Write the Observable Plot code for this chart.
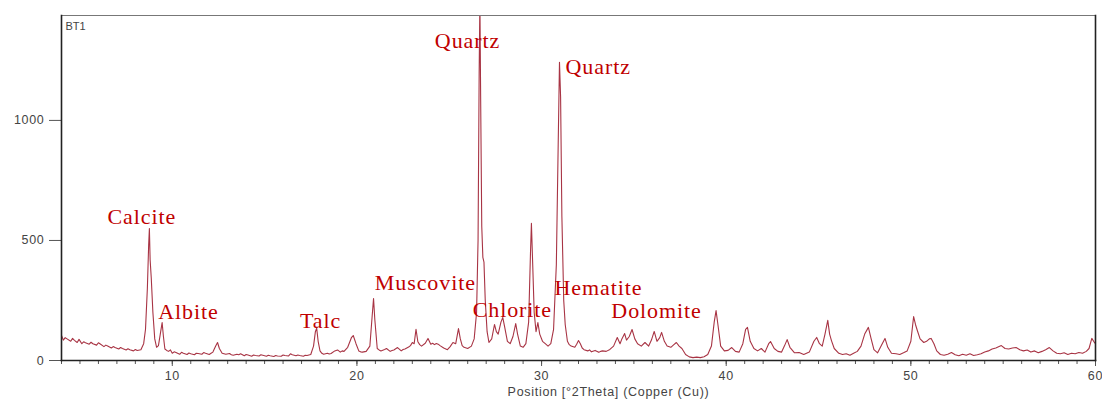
<!DOCTYPE html>
<html>
<head>
<meta charset="utf-8">
<script src="https://cdn.jsdelivr.net/npm/d3@7"></script>
<script src="https://cdn.jsdelivr.net/npm/@observablehq/plot@0.6"></script>
<style>
  html, body { margin: 0; padding: 0; background: #fff; }
  #chart { width: 1102px; height: 403px; }
  .mineral text { letter-spacing: 0.9px; }
  .axtext text { letter-spacing: 0.7px; }
</style>
</head>
<body>
<div id="chart"></div>
<script>
// XRD scan: [position °2θ, counts]
const scan = [
  [4.0,104],[4.1,85],[4.2,95],[4.3,90],[4.5,80],[4.6,92],[4.7,84],[4.85,75],[4.95,88],[5.1,70],[5.2,78],[5.3,74],[5.5,68],[5.6,76],[5.7,70],[5.9,64],[6.0,74],[6.1,69],[6.3,58],[6.4,64],[6.5,60],[6.7,52],[6.8,58],[6.9,54],[7.1,48],[7.2,54],[7.3,50],[7.5,44],[7.6,49],[7.7,45],[7.9,40],[8.0,46],[8.1,42],[8.3,45],
  [8.45,70],[8.55,130],[8.65,300],[8.72,480],[8.76,550],[8.8,420],[8.86,346],[8.95,200],[9.05,90],[9.15,55],[9.25,62],[9.35,110],[9.45,158],[9.52,100],[9.6,48],[9.7,42],[9.8,38],[9.9,44],[10.0,30],[10.1,36],[10.2,33],[10.4,26],[10.5,34],[10.6,30],[10.8,25],[10.9,31],[11.0,28],[11.2,24],[11.3,30],[11.4,29],[11.6,26],[11.7,33],[11.8,30],[12.0,25],[12.1,30],[12.2,35],
  [12.35,60],[12.45,75],[12.55,50],[12.7,30],[12.8,28],[12.9,26],[13.1,29],[13.2,24],[13.3,22],[13.5,26],[13.6,24],[13.7,28],[13.9,20],[14.0,25],[14.1,23],[14.3,18],[14.4,23],[14.5,21],[14.7,19],[14.8,24],[14.9,22],[15.1,18],[15.2,22],[15.3,20],[15.5,17],[15.6,21],[15.7,19],[15.9,18],[16.0,23],[16.1,21],[16.3,19],[16.4,28],[16.5,24],[16.7,20],[16.8,23],[16.9,21],[17.1,18],[17.2,22],[17.3,21],[17.5,25],
  [17.65,60],[17.75,120],[17.82,135],[17.9,80],[18.0,40],[18.1,30],[18.2,26],[18.4,30],[18.5,27],[18.6,29],[18.8,40],[18.95,44],[19.1,35],[19.2,40],[19.3,38],[19.5,55],[19.7,95],[19.8,104],[19.95,70],[20.1,40],[20.2,36],[20.3,35],[20.5,38],[20.7,60],[20.82,180],[20.9,258],[20.97,170],[21.1,50],[21.2,44],[21.3,40],[21.5,46],[21.6,50],[21.8,38],[21.9,42],[22.0,44],[22.2,54],[22.4,40],[22.5,46],[22.6,48],[22.8,56],[22.9,62],[23.0,75],[23.1,70],[23.2,130],[23.3,78],[23.4,66],[23.5,60],[23.7,72],[23.85,92],[24.0,68],[24.1,72],[24.2,66],[24.3,71],[24.4,68],[24.5,62],[24.7,52],[24.9,45],[25.05,58],[25.2,75],[25.35,70],[25.5,133],[25.6,90],[25.7,62],[25.8,55],[26.0,50],[26.2,60],
  [26.35,90],[26.48,200],[26.56,500],[26.62,1200],[26.66,1500],[26.7,1100],[26.76,560],[26.82,430],[26.88,410],[26.95,250],[27.05,120],[27.15,75],[27.3,90],[27.45,150],[27.55,120],[27.65,110],[27.8,160],[27.9,179],[28.0,140],[28.15,80],[28.3,70],[28.45,100],[28.6,154],[28.7,110],[28.85,60],[29.0,55],[29.15,70],[29.3,160],[29.4,450],[29.45,571],[29.52,400],[29.6,200],[29.7,120],[29.8,158],[29.9,110],[30.05,80],[30.2,70],[30.35,60],[30.5,70],[30.65,130],[30.8,400],[30.9,900],[30.97,1242],[31.03,1100],[31.1,600],[31.2,250],[31.28,150],[31.4,80],[31.5,66],[31.6,60],[31.8,55],[31.9,68],[32.0,83],[32.1,70],[32.2,52],[32.3,45],[32.5,40],[32.6,44],[32.7,36],[32.9,42],[33.1,34],[33.2,38],[33.3,40],[33.5,38],[33.7,46],[33.9,60],
  [34.1,96],[34.25,70],[34.35,90],[34.5,112],[34.6,85],[34.75,100],[34.9,129],[35.05,90],[35.2,70],[35.4,60],[35.6,75],[35.8,60],[35.95,85],[36.1,121],[36.25,80],[36.4,95],[36.5,117],[36.65,80],[36.8,60],[37.0,55],[37.15,65],[37.3,75],[37.45,60],[37.6,50],[37.8,25],[38.0,15],[38.2,12],[38.4,14],[38.6,12],[38.8,16],[39.0,25],[39.2,60],[39.35,160],[39.45,208],[39.55,150],[39.7,60],[39.9,40],[40.1,42],[40.3,54],[40.5,38],[40.7,35],[40.9,70],[41.05,130],[41.15,138],[41.3,80],[41.5,50],[41.7,40],[41.9,50],[42.1,35],[42.3,70],[42.4,79],[42.6,50],[42.8,38],[43.0,35],[43.15,60],[43.3,87],[43.45,55],[43.7,32],[43.95,33],[44.2,25],[44.5,35],[44.75,80],[44.9,96],[45.05,70],[45.2,60],[45.35,110],[45.5,167],[45.6,110],[45.7,83],[45.85,50],[46.1,30],[46.3,25],[46.5,28],[46.7,22],[46.9,30],[47.1,38],[47.3,60],[47.5,110],[47.7,138],[47.85,90],[48.0,45],[48.2,32],[48.45,70],[48.6,92],[48.75,55],[48.95,30],[49.2,28],[49.4,25],[49.6,32],[49.8,40],
  [50.0,80],[50.15,183],[50.25,150],[50.35,125],[50.5,90],[50.7,75],[50.85,80],[51.0,90],[51.1,92],[51.25,70],[51.4,40],[51.6,25],[51.8,22],[52.0,26],[52.2,33],[52.4,24],[52.6,20],[52.8,26],[53.0,22],[53.2,28],[53.4,21],[53.6,24],[53.8,28],[54.0,35],[54.2,40],[54.4,48],[54.6,52],[54.9,62],[55.1,50],[55.3,48],[55.5,52],[55.7,54],[55.9,45],[56.1,40],[56.3,44],[56.5,35],[56.7,40],[56.9,32],[57.1,38],[57.3,45],[57.5,54],[57.7,40],[57.9,30],[58.1,28],[58.3,32],[58.5,25],[58.7,30],[58.9,28],[59.1,33],[59.3,30],[59.5,38],[59.65,50],[59.8,92],[59.9,80],[60.0,70]
];

const mineralNames = ["Quartz", "Quartz", "Calcite", "Albite", "Talc", "Muscovite", "Chlorite", "Hematite", "Dolomite"];
const labelTheta   = [24.22, 31.3, 6.49, 9.24, 16.92, 20.97, 26.27, 30.7, 33.78];
const labelCounts  = [1331, 1223, 598, 202, 165, 323, 210, 302, 206];

const xMajorTicks = [10, 20, 30, 40, 50, 60];
const xMinorTicks = d3.range(4, 61, 1);
const yTicks = [0, 500, 1000];
const xTitle = "Position [°2Theta] (Copper (Cu))";
const panelTitle = "BT1";

const points = scan.map(([t, c]) => ({t, c}));
const labels = mineralNames.map((name, i) => ({name, t: labelTheta[i], c: labelCounts[i]}));

const chart = Plot.plot({
  width: 1102,
  height: 403,
  marginLeft: 61,
  marginRight: 7,
  marginTop: 15,
  marginBottom: 43,
  style: {fontFamily: "'Liberation Sans', Arial, sans-serif", fontSize: "12px", color: "#333", background: "#fff"},
  x: {domain: [4, 60]},
  y: {domain: [0, 1437]},
  marks: [
    Plot.axisX({ticks: xMinorTicks, tickSize: 4, text: null, stroke: "#555", label: null}),
    Plot.axisX({ticks: xMajorTicks, tickSize: 6, tickPadding: 5, stroke: "#555", fill: "#444", fontSize: 12.5,
      label: null, className: "axtext"}),
    Plot.axisY({ticks: yTicks, tickSize: 12, tickPadding: 5, stroke: "#555", fill: "#444", fontSize: 12.5,
      tickFormat: d3.format("d"), label: null, className: "axtext"}),
    Plot.text([xTitle], {frameAnchor: "bottom", dx: 30, dy: 35, text: d => d, fill: "#444", fontSize: 12.5, className: "axtext"}),
    Plot.line(points, {x: "t", y: "c", stroke: "#a83444", strokeWidth: 1.1, clip: true}),
    Plot.frame({stroke: "#777", strokeWidth: 1}),
    Plot.frame({anchor: "left", stroke: "#222", strokeWidth: 1.6}),
    Plot.frame({anchor: "bottom", stroke: "#222", strokeWidth: 1.6}),
    Plot.frame({anchor: "right", stroke: "#222", strokeWidth: 1.6}),
    Plot.text([panelTitle], {frameAnchor: "top-left", dx: 4, dy: 7, text: d => d, fill: "#444", fontSize: 11}),
    Plot.text(labels, {x: "t", y: "c", text: "name", textAnchor: "start", fill: "#c00000",
      fontFamily: "'Liberation Serif', 'Times New Roman', serif", fontSize: 22, className: "mineral"})
  ]
});
document.getElementById("chart").appendChild(chart);
</script>
</body>
</html>
